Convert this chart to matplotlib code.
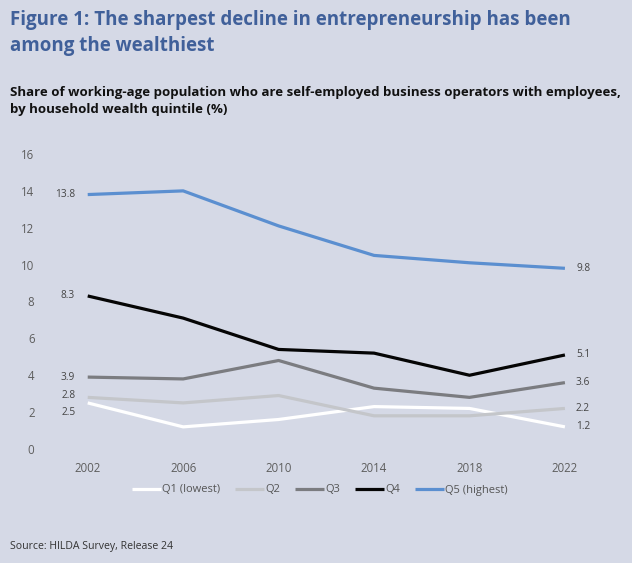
import matplotlib
matplotlib.use('Agg')
import matplotlib.pyplot as plt

years = [2002, 2006, 2010, 2014, 2018, 2022]
q1 = [2.5, 1.2, 1.6, 2.3, 2.2, 1.2]
q2 = [2.8, 2.5, 2.9, 1.8, 1.8, 2.2]
q3 = [3.9, 3.8, 4.8, 3.3, 2.8, 3.6]
q4 = [8.3, 7.1, 5.4, 5.2, 4.0, 5.1]
q5 = [13.8, 14.0, 12.1, 10.5, 10.1, 9.8]
labels = ['Q1 (lowest)', 'Q2', 'Q3', 'Q4', 'Q5 (highest)']
colors = ['#ffffff', '#c4c6ca', '#7b7c80', '#050505', '#5b8fd0']

bg = '#d5d9e6'
plt.rcParams['font.family'] = ['Open Sans', 'DejaVu Sans']

fig = plt.figure(figsize=(6.32, 5.63), dpi=100, facecolor=bg)
ax = fig.add_axes([40 / 632, 114 / 563, 560 / 632, 295 / 563])
ax.set_facecolor(bg)

# small vertical nudges so the crowded end labels don't collide
start_dy = [-7, 1, 0, 0, 0]
end_dy = [0, 0, 0, 0, 0]
for vals, lab, col, dy0, dy1 in zip([q1, q2, q3, q4, q5], labels, colors, start_dy, end_dy):
    ax.plot(years, vals, color=col, lw=2.3, label=lab, solid_capstyle='butt')
    ax.annotate(f'{vals[0]}', (years[0], vals[0]), xytext=(-9, dy0), textcoords='offset points',
                ha='right', va='center', fontsize=7.3, color='#444444')
    ax.annotate(f'{vals[-1]}', (years[-1], vals[-1]), xytext=(8, dy1), textcoords='offset points',
                ha='left', va='center', fontsize=7.3, color='#444444')

ax.set_xlim(2000, 2023.47)
ax.set_ylim(0, 16)
ax.set_xticks(years)
ax.set_yticks(range(0, 17, 2))
ax.tick_params(length=0, labelsize=8.3, labelcolor='#5e5e5e')
ax.tick_params(axis='x', pad=9)
ax.tick_params(axis='y', pad=4)
for s in ax.spines.values():
    s.set_visible(False)

fig.legend(loc='center', bbox_to_anchor=(320 / 632, 1 - 490 / 563), ncol=5, frameon=False,
           fontsize=8, handlelength=2.6, handletextpad=0.1, columnspacing=1.35,
           labelcolor='#555555')

fig.text(10 / 632, 1 - 20 / 563, 'Figure 1: The sharpest decline in entrepreneurship has been',
         fontsize=13.5, fontweight='bold', color='#40609a', va='center')
fig.text(10 / 632, 1 - 46 / 563, 'among the wealthiest',
         fontsize=13.5, fontweight='bold', color='#40609a', va='center')
fig.text(10 / 632, 1 - 92 / 563,
         'Share of working-age population who are self-employed business operators with employees,',
         fontsize=9.55, fontweight='bold', color='#111111', va='center')
fig.text(10 / 632, 1 - 110 / 563, 'by household wealth quintile (%)',
         fontsize=9.55, fontweight='bold', color='#111111', va='center')
fig.text(10 / 632, 1 - 546 / 563, 'Source: HILDA Survey, Release 24',
         fontsize=7.6, color='#333333', va='center')

fig.savefig('out.png', dpi=100, facecolor=bg)
